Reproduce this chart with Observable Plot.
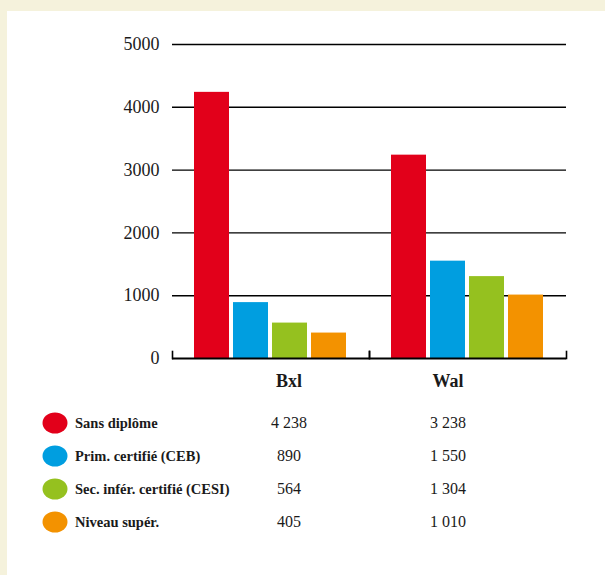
<!DOCTYPE html>
<html>
<head>
<meta charset="utf-8">
<script src="https://cdn.jsdelivr.net/npm/d3@7"></script>
<script src="https://cdn.jsdelivr.net/npm/@observablehq/plot@0.6"></script>
<style>
  html, body { margin: 0; padding: 0; }
  body { width: 605px; height: 575px; background: #f5f2dc; position: relative; overflow: hidden;
         font-family: "Liberation Serif", "Times New Roman", "DejaVu Serif", serif; color: #1a1a1a; }
  #panel { position: absolute; left: 7px; top: 11px; right: 0; bottom: 0; background: #ffffff; }
  #chart { position: absolute; left: 0; top: 0; }
  .hdr { position: absolute; font-weight: bold; font-size: 18px; transform: translate(-50%, -50%); white-space: nowrap; }
  .dot { position: absolute; width: 25px; height: 21px; border-radius: 50%; transform: translate(-50%, -50%); }
  .lab { position: absolute; font-weight: bold; font-size: 14.5px; transform: translateY(-50%); white-space: nowrap; }
  .val { position: absolute; font-size: 16px; transform: translate(-50%, -50%); white-space: nowrap; }
</style>
</head>
<body>
<div id="panel"></div>
<div id="chart"></div>
<div id="table"></div>
<script>
const regions = ["Bxl", "Wal"];
const categories = ["Sans diplôme", "Prim. certifié (CEB)", "Sec. inférieur certifié (CESI)", "Niveau supér."];
const categoryLabels = ["Sans diplôme", "Prim. certifié (CEB)", "Sec. infér. certifié (CESI)", "Niveau supér."];
const colors = ["#e2001a", "#009ee0", "#95c11f", "#f39200"];
const bxlValues = [4238, 890, 564, 405];
const walValues = [3238, 1550, 1304, 1010];
const yTicks = [0, 1000, 2000, 3000, 4000, 5000];

const seriesByRegion = {Bxl: bxlValues, Wal: walValues};
const rows = [];
for (const r of regions) categories.forEach((c, i) => rows.push({region: r, category: c, value: seriesByRegion[r][i]}));

const serif = '"Liberation Serif", "Times New Roman", "DejaVu Serif", serif';
const plotTop = 44, plotBottom = 358, svgHeight = 372;
const tickLen = 7;

const plot = Plot.plot({
  width: 605,
  height: svgHeight,
  marginLeft: 172,
  marginRight: 39,
  marginTop: plotTop,
  marginBottom: svgHeight - plotBottom,
  style: {background: "transparent", fontFamily: serif, color: "#1a1a1a"},
  facet: {data: rows, x: "region"},
  fx: {domain: regions, padding: 0, axis: null, label: null},
  x: {domain: categories, paddingInner: 0.09, paddingOuter: 0.53, axis: null, label: null},
  y: {domain: [0, 5000], ticks: yTicks, tickSize: 0, tickPadding: 13, tickFormat: d => String(d), label: null},
  color: {domain: categories, range: colors},
  marks: [
    Plot.ruleY(yTicks.filter(d => d > 0), {stroke: "#000", strokeWidth: 1.4}),
    Plot.barY(rows, {x: "category", y: "value", fill: "category"}),
    Plot.ruleY([0], {stroke: "#000", strokeWidth: 2}),
    Plot.frame({anchor: "left", stroke: "#000", strokeWidth: 1.6, insetTop: plotBottom - plotTop - tickLen}),
    Plot.frame({anchor: "right", stroke: "#000", strokeWidth: 1.6, insetTop: plotBottom - plotTop - tickLen})
  ]
});
plot.setAttribute("font-family", serif);
plot.querySelectorAll("g, text").forEach(t => {
  t.setAttribute("font-family", serif);
  t.style.fontFamily = serif;
});
plot.querySelectorAll("text").forEach(t => t.setAttribute("font-size", "18"));
document.getElementById("chart").appendChild(plot);

// table
const table = document.getElementById("table");
const colX = [289, 448];
const headerY = 381;
const rowY0 = 423, rowStep = 33;
const fmt = v => d3.format(",")(v).replace(/,/g, "\u00a0");
regions.forEach((r, j) => {
  const h = document.createElement("div");
  h.className = "hdr"; h.textContent = r;
  h.style.left = colX[j] + "px"; h.style.top = headerY + "px";
  table.appendChild(h);
});
categoryLabels.forEach((lab, i) => {
  const y = rowY0 + i * rowStep;
  const d = document.createElement("div");
  d.className = "dot"; d.style.background = colors[i];
  d.style.left = "54.5px"; d.style.top = y + "px";
  table.appendChild(d);
  const l = document.createElement("div");
  l.className = "lab"; l.textContent = lab;
  l.style.left = "75px"; l.style.top = y + "px";
  table.appendChild(l);
  [bxlValues[i], walValues[i]].forEach((v, j) => {
    const e = document.createElement("div");
    e.className = "val"; e.textContent = fmt(v);
    e.style.left = colX[j] + "px"; e.style.top = y + "px";
    table.appendChild(e);
  });
});
</script>
</body>
</html>
